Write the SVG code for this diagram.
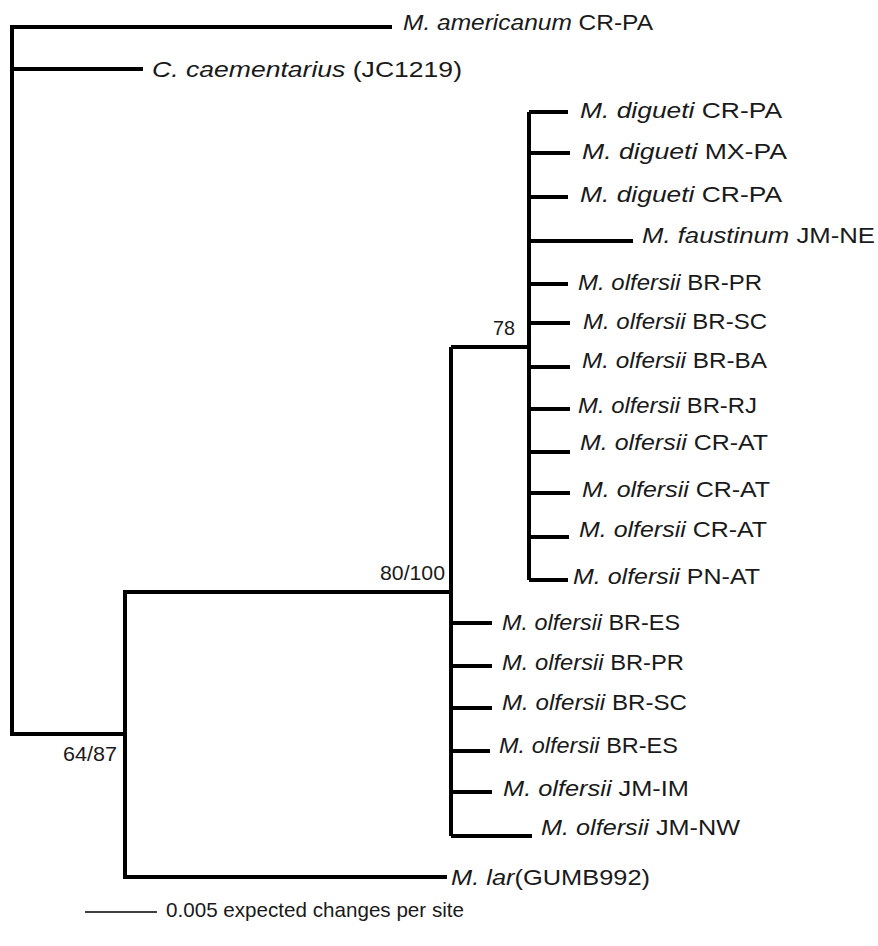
<svg xmlns="http://www.w3.org/2000/svg" width="878" height="946" viewBox="0 0 878 946">
<style>
.br{fill:none;stroke:#000;stroke-width:4;stroke-linejoin:miter;stroke-linecap:butt}
.lb{font-family:"Liberation Sans",Arial,sans-serif;font-size:22px;fill:#1a1a1a}
.it{font-style:italic}
.sup{font-family:"Liberation Sans",Arial,sans-serif;font-size:20px;fill:#1a1a1a}
</style>
<rect width="878" height="946" fill="#fff"/>
<g id="connectors">
<path class="br" d="M392 27H12V734H125"/>
<path class="br" d="M12 69H143"/>
<path class="br" d="M447 877H125V592H451"/>
<path class="br" d="M451 347V836"/>
<path class="br" d="M451 347H529"/>
<path class="br" d="M529 112V580"/>
<path class="br" d="M529 112H568M529 153H570M529 197H568M529 241H633M529 284H568M529 323H570M529 367H570M529 409H570M529 452H570M529 493H570M529 537H569M529 580H568"/>
<path class="br" d="M451 623H492M451 666H492M451 708H492M451 751H490M451 792H492M451 836H532"/>
<path d="M85 912H157" fill="none" stroke="#000" stroke-width="1.5"/>
</g>
<g id="n-americanum"><text class="lb" x="403" y="30" textLength="250" lengthAdjust="spacingAndGlyphs"><tspan class="it">M. americanum</tspan> CR-PA</text></g>
<g id="n-caementarius"><text class="lb" x="152" y="77" textLength="310" lengthAdjust="spacingAndGlyphs"><tspan class="it">C. caementarius</tspan> (JC1219)</text></g>
<g id="n-digueti-1"><text class="lb" x="580" y="118" textLength="202" lengthAdjust="spacingAndGlyphs"><tspan class="it">M. digueti</tspan> CR-PA</text></g>
<g id="n-digueti-2"><text class="lb" x="582" y="159" textLength="205" lengthAdjust="spacingAndGlyphs"><tspan class="it">M. digueti</tspan> MX-PA</text></g>
<g id="n-digueti-3"><text class="lb" x="580" y="202" textLength="202" lengthAdjust="spacingAndGlyphs"><tspan class="it">M. digueti</tspan> CR-PA</text></g>
<g id="n-faustinum"><text class="lb" x="642" y="243" textLength="233" lengthAdjust="spacingAndGlyphs"><tspan class="it">M. faustinum</tspan> JM-NE</text></g>
<g id="n-olfersii-1"><text class="lb" x="578" y="290" textLength="184" lengthAdjust="spacingAndGlyphs"><tspan class="it">M. olfersii</tspan> BR-PR</text></g>
<g id="n-olfersii-2"><text class="lb" x="583" y="329" textLength="184" lengthAdjust="spacingAndGlyphs"><tspan class="it">M. olfersii</tspan> BR-SC</text></g>
<g id="n-olfersii-3"><text class="lb" x="582" y="368" textLength="185" lengthAdjust="spacingAndGlyphs"><tspan class="it">M. olfersii</tspan> BR-BA</text></g>
<g id="n-olfersii-4"><text class="lb" x="578" y="413" textLength="179" lengthAdjust="spacingAndGlyphs"><tspan class="it">M. olfersii</tspan> BR-RJ</text></g>
<g id="n-olfersii-5"><text class="lb" x="580" y="450" textLength="188" lengthAdjust="spacingAndGlyphs"><tspan class="it">M. olfersii</tspan> CR-AT</text></g>
<g id="n-olfersii-6"><text class="lb" x="582" y="497" textLength="188" lengthAdjust="spacingAndGlyphs"><tspan class="it">M. olfersii</tspan> CR-AT</text></g>
<g id="n-olfersii-7"><text class="lb" x="579" y="537" textLength="188" lengthAdjust="spacingAndGlyphs"><tspan class="it">M. olfersii</tspan> CR-AT</text></g>
<g id="n-olfersii-8"><text class="lb" x="573" y="584" textLength="187" lengthAdjust="spacingAndGlyphs"><tspan class="it">M. olfersii</tspan> PN-AT</text></g>
<g id="n-olfersii-9"><text class="lb" x="502" y="630" textLength="178" lengthAdjust="spacingAndGlyphs"><tspan class="it">M. olfersii</tspan> BR-ES</text></g>
<g id="n-olfersii-10"><text class="lb" x="502" y="670" textLength="182" lengthAdjust="spacingAndGlyphs"><tspan class="it">M. olfersii</tspan> BR-PR</text></g>
<g id="n-olfersii-11"><text class="lb" x="502" y="710" textLength="185" lengthAdjust="spacingAndGlyphs"><tspan class="it">M. olfersii</tspan> BR-SC</text></g>
<g id="n-olfersii-12"><text class="lb" x="499" y="753" textLength="179" lengthAdjust="spacingAndGlyphs"><tspan class="it">M. olfersii</tspan> BR-ES</text></g>
<g id="n-olfersii-13"><text class="lb" x="503" y="796" textLength="186" lengthAdjust="spacingAndGlyphs"><tspan class="it">M. olfersii</tspan> JM-IM</text></g>
<g id="n-olfersii-14"><text class="lb" x="541" y="835" textLength="199" lengthAdjust="spacingAndGlyphs"><tspan class="it">M. olfersii</tspan> JM-NW</text></g>
<g id="n-lar"><text class="lb" x="451" y="885" textLength="199" lengthAdjust="spacingAndGlyphs"><tspan class="it">M. lar</tspan>(GUMB992)</text></g>
<g id="support">
<text class="sup" x="493" y="335" textLength="22" lengthAdjust="spacingAndGlyphs">78</text>
<text class="sup" x="380" y="580" textLength="65" lengthAdjust="spacingAndGlyphs">80/100</text>
<text class="sup" x="63" y="761" textLength="54" lengthAdjust="spacingAndGlyphs">64/87</text>
</g>
<g id="scale"><text class="lb" x="166" y="917" textLength="298" lengthAdjust="spacingAndGlyphs" style="font-size:21px">0.005 expected changes per site</text></g>
</svg>
